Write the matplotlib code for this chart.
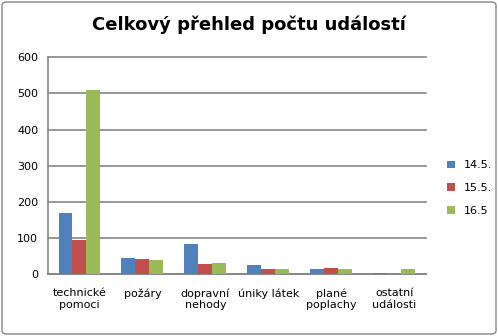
import numpy as np
import matplotlib
matplotlib.use("Agg")
import matplotlib.pyplot as plt
from matplotlib.patches import FancyBboxPatch

categories = ["technické\npomoci", "požáry", "dopravní\nnehody", "úniky látek", "plané\npoplachy", "ostatní\nudálosti"]
series_names = ["14.5.", "15.5.", "16.5"]
v_14 = [170, 45, 84, 26, 15, 4]
v_15 = [95, 42, 28, 15, 18, 0]
v_16 = [509, 39, 31, 15, 15, 15]
colors = ["#4F81BD", "#C0504D", "#9BBB59"]

fig = plt.figure(figsize=(4.98, 3.36), dpi=100)
ax = fig.add_axes([0.0964, 0.1836, 0.7586, 0.6459])

x = np.arange(len(categories))
w = 2.0 / 9
for i, (vals, name) in enumerate(zip([v_14, v_15, v_16], series_names)):
    ax.bar(x + (i - 1) * w, vals, width=w, color=colors[i], label=name, zorder=3)

ax.set_xlim(-0.5, len(categories) - 0.5)
ax.set_ylim(0, 600)
ax.set_yticks(range(0, 601, 100))
ax.yaxis.grid(True, color="#868686", linewidth=1.2, zorder=0)
for gl in ax.get_ygridlines():
    gl.set_clip_on(False)
ax.set_xticks(x)
ax.set_xticklabels(categories, fontsize=8)
ax.tick_params(axis="both", length=0, labelsize=8)
ax.tick_params(axis="x", pad=10)
ax.tick_params(axis="y", pad=7)
for s in ["top", "right"]:
    ax.spines[s].set_visible(False)
for s in ["left", "bottom"]:
    ax.spines[s].set_color("#868686")
    ax.spines[s].set_linewidth(1.2)

fig.suptitle("Celkový přehled počtu událostí", x=0.5, y=0.955, fontsize=13, fontweight="bold")

ax.legend(loc="center left", bbox_to_anchor=(1.03, 0.397), frameon=False, fontsize=8,
          handlelength=0.7, handleheight=0.7, labelspacing=1.15)

border = FancyBboxPatch((0.004, 0.006), 0.992, 0.988, boxstyle="round,pad=0,rounding_size=0.01",
                        transform=fig.transFigure, fill=False, edgecolor="#868686", linewidth=1)
fig.patches.append(border)

plt.savefig("out.png", dpi=100)
